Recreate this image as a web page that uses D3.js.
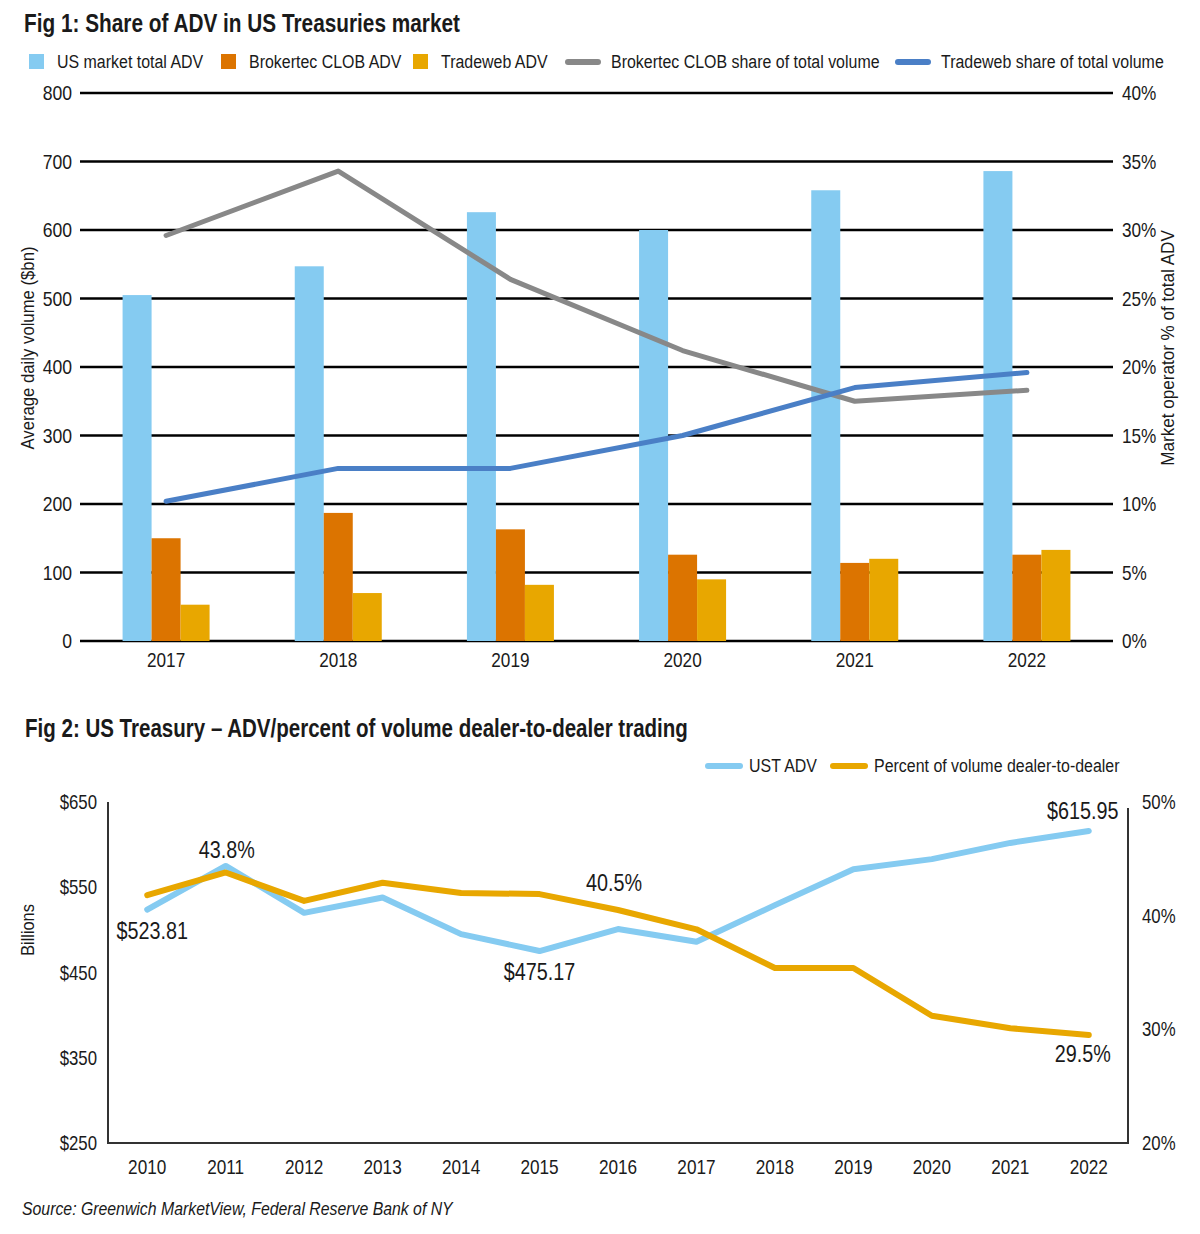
<!DOCTYPE html>
<html>
<head>
<meta charset="utf-8">
<script src="https://cdn.jsdelivr.net/npm/d3@7"></script>
<style>
  body { margin: 0; background: #fff; }
  svg text { font-family: "Liberation Sans", Arial, sans-serif; fill: #1a1a1a; }
  .title { font-weight: bold; font-size: 26px; }
</style>
</head>
<body>
<svg id="chart" width="1200" height="1234"></svg>
<script>
// ---- Fig 1 data ----
var years1 = ["2017", "2018", "2019", "2020", "2021", "2022"];
var totalAdv = [505, 547, 626, 600, 658, 686];
var brokertecAdv = [150, 187, 163, 126, 114, 126];
var tradewebAdv = [53, 70, 82, 90, 120, 133];
var brokertecShare = [29.6, 34.3, 26.4, 21.2, 17.5, 18.3];
var tradewebShare = [10.2, 12.6, 12.6, 15.0, 18.5, 19.6];
var leftTicks1 = [0, 100, 200, 300, 400, 500, 600, 700, 800];
var rightTicks1 = [0, 5, 10, 15, 20, 25, 30, 35, 40];

// ---- Fig 2 data ----
var years2 = ["2010", "2011", "2012", "2013", "2014", "2015", "2016", "2017", "2018", "2019", "2020", "2021", "2022"];
var ustAdv = [523.81, 575, 520, 538, 495, 475.17, 501, 486, 529, 571, 583, 602, 615.95];
var dealerPct = [41.8, 43.8, 41.3, 42.9, 42.0, 41.9, 40.5, 38.8, 35.4, 35.4, 31.2, 30.1, 29.5];
var leftTicks2 = [250, 350, 450, 550, 650];
var rightTicks2 = [20, 30, 40, 50];

var svg = d3.select("#chart");

var colBlue = "#85CBF1",
    colOrange = "#DC7400",
    colYellow = "#E8A700",
    colGrey = "#888888",
    colLineBlue = "#4A7FC6";

// squeeze text horizontally (condensed look of the original face)
function squeeze(sel, f) {
    sel.each(function () {
        var t = d3.select(this);
        var tr = t.attr("transform");
        if (tr) {
            t.attr("transform", tr + " scale(" + f + ",1)");
        } else {
            var x = +t.attr("x") || 0, y = +t.attr("y") || 0;
            t.attr("x", 0).attr("y", 0)
                .attr("transform", "translate(" + x + "," + y + ") scale(" + f + ",1)");
        }
    });
    return sel;
}

// ================= FIG 1 =================
squeeze(svg.append("text").attr("class", "title").attr("x", 24).attr("y", 32)
    .text("Fig 1: Share of ADV in US Treasuries market"), 0.8);

// legend
var leg1 = [
    {type: "rect", color: colBlue, x: 29, label: "US market total ADV"},
    {type: "rect", color: colOrange, x: 221, label: "Brokertec CLOB ADV"},
    {type: "rect", color: colYellow, x: 413, label: "Tradeweb ADV"},
    {type: "line", color: colGrey, x: 566, label: "Brokertec CLOB share of total volume"},
    {type: "line", color: colLineBlue, x: 896, label: "Tradeweb share of total volume"}
];
leg1.forEach(function (d) {
    if (d.type === "rect") {
        svg.append("rect").attr("x", d.x).attr("y", 54).attr("width", 15).attr("height", 15).attr("fill", d.color);
        squeeze(svg.append("text").attr("x", d.x + 28).attr("y", 68).style("font-size", "19px").text(d.label), 0.84);
    } else {
        svg.append("line").attr("x1", d.x + 2).attr("x2", d.x + 32).attr("y1", 62).attr("y2", 62)
            .attr("stroke", d.color).attr("stroke-width", 6).attr("stroke-linecap", "round");
        squeeze(svg.append("text").attr("x", d.x + 45).attr("y", 68).style("font-size", "19px").text(d.label), 0.84);
    }
});

var x1 = d3.scaleBand().domain(years1).range([80, 1113]).padding(0);
var y1L = d3.scaleLinear().domain([0, 800]).range([641, 93]);
var y1R = d3.scaleLinear().domain([0, 40]).range([641, 93]);
var barW = 29;

// gridlines
svg.append("g").selectAll("line").data(leftTicks1).join("line")
    .attr("x1", 80).attr("x2", 1113)
    .attr("y1", d => y1L(d)).attr("y2", d => y1L(d))
    .attr("stroke", "#000").attr("stroke-width", 2.5);

squeeze(svg.append("g").selectAll("text").data(leftTicks1).join("text")
    .attr("x", 72).attr("y", d => y1L(d) + 7).attr("text-anchor", "end")
    .style("font-size", "20px").text(d => d), 0.88);

squeeze(svg.append("g").selectAll("text").data(rightTicks1).join("text")
    .attr("x", 1122).attr("y", d => y1R(d) + 7).attr("text-anchor", "start")
    .style("font-size", "20px").text(d => d + "%"), 0.86);

squeeze(svg.append("text").attr("transform", "translate(34,348) rotate(-90)").attr("text-anchor", "middle")
    .style("font-size", "19px").text("Average daily volume ($bn)"), 0.88);
squeeze(svg.append("text").attr("transform", "translate(1174,348) rotate(-90)").attr("text-anchor", "middle")
    .style("font-size", "19px").text("Market operator % of total ADV"), 0.9);

// bars
var barSeries = [
    {vals: totalAdv, color: colBlue},
    {vals: brokertecAdv, color: colOrange},
    {vals: tradewebAdv, color: colYellow}
];
barSeries.forEach(function (s, k) {
    svg.append("g").selectAll("rect").data(years1).join("rect")
        .attr("x", (d, i) => x1(d) + x1.bandwidth() / 2 - 1.5 * barW + k * barW)
        .attr("y", (d, i) => y1L(s.vals[i]))
        .attr("width", barW)
        .attr("height", (d, i) => y1L(0) - y1L(s.vals[i]))
        .attr("fill", s.color);
});

// x labels
squeeze(svg.append("g").selectAll("text").data(years1).join("text")
    .attr("x", d => x1(d) + x1.bandwidth() / 2).attr("y", 667).attr("text-anchor", "middle")
    .style("font-size", "20px").text(d => d), 0.86);

// share lines
var line1 = d3.line().x((d, i) => x1(years1[i]) + x1.bandwidth() / 2).y(d => y1R(d));
svg.append("path").attr("d", line1(brokertecShare)).attr("fill", "none")
    .attr("stroke", colGrey).attr("stroke-width", 5).attr("stroke-linecap", "round").attr("stroke-linejoin", "round");
svg.append("path").attr("d", line1(tradewebShare)).attr("fill", "none")
    .attr("stroke", colLineBlue).attr("stroke-width", 5).attr("stroke-linecap", "round").attr("stroke-linejoin", "round");

// ================= FIG 2 =================
squeeze(svg.append("text").attr("class", "title").attr("x", 25).attr("y", 737)
    .text("Fig 2: US Treasury \u2013 ADV/percent of volume dealer-to-dealer trading"), 0.79);

// legend
var leg2 = [
    {color: colBlue, x: 706, label: "UST ADV"},
    {color: colYellow, x: 831, label: "Percent of volume dealer-to-dealer"}
];
leg2.forEach(function (d) {
    svg.append("line").attr("x1", d.x + 2).attr("x2", d.x + 34).attr("y1", 766).attr("y2", 766)
        .attr("stroke", d.color).attr("stroke-width", 6).attr("stroke-linecap", "round");
    squeeze(svg.append("text").attr("x", d.x + 43).attr("y", 772).style("font-size", "19px").text(d.label), 0.84);
});

var x2 = d3.scaleBand().domain(years2).range([108, 1128]).padding(0);
var y2L = d3.scaleLinear().domain([250, 650]).range([1143, 802]);
var y2R = d3.scaleLinear().domain([20, 50]).range([1143, 802]);

// axes frame
svg.append("line").attr("x1", 108).attr("x2", 108).attr("y1", 802).attr("y2", 1144)
    .attr("stroke", "#333").attr("stroke-width", 2);
svg.append("line").attr("x1", 1128).attr("x2", 1128).attr("y1", 808).attr("y2", 1144)
    .attr("stroke", "#333").attr("stroke-width", 2);
svg.append("line").attr("x1", 107).attr("x2", 1129).attr("y1", 1143).attr("y2", 1143)
    .attr("stroke", "#333").attr("stroke-width", 2);

squeeze(svg.append("g").selectAll("text").data(leftTicks2).join("text")
    .attr("x", 97).attr("y", d => y2L(d) + 7).attr("text-anchor", "end")
    .style("font-size", "20px").text(d => "$" + d), 0.84);
squeeze(svg.append("g").selectAll("text").data(rightTicks2).join("text")
    .attr("x", 1142).attr("y", d => y2R(d) + 7).attr("text-anchor", "start")
    .style("font-size", "20px").text(d => d + "%"), 0.84);
squeeze(svg.append("g").selectAll("text").data(years2).join("text")
    .attr("x", d => x2(d) + x2.bandwidth() / 2).attr("y", 1174).attr("text-anchor", "middle")
    .style("font-size", "20px").text(d => d), 0.86);

squeeze(svg.append("text").attr("transform", "translate(34,930) rotate(-90)").attr("text-anchor", "middle")
    .style("font-size", "19px").text("Billions"), 0.86);

var lineL = d3.line().x((d, i) => x2(years2[i]) + x2.bandwidth() / 2).y(d => y2L(d));
var lineR = d3.line().x((d, i) => x2(years2[i]) + x2.bandwidth() / 2).y(d => y2R(d));
svg.append("path").attr("d", lineL(ustAdv)).attr("fill", "none")
    .attr("stroke", colBlue).attr("stroke-width", 6).attr("stroke-linecap", "round").attr("stroke-linejoin", "round");
svg.append("path").attr("d", lineR(dealerPct)).attr("fill", "none")
    .attr("stroke", colYellow).attr("stroke-width", 6).attr("stroke-linecap", "round").attr("stroke-linejoin", "round");

// annotations
var cx = function (yr) { return x2(yr) + x2.bandwidth() / 2; };
var notes = [
    {x: cx("2010") + 5, y: y2L(523.81) + 29, t: "$523.81"},
    {x: cx("2011") + 1, y: y2R(43.8) - 14, t: "43.8%"},
    {x: cx("2015") + 0, y: y2L(475.17) + 29, t: "$475.17"},
    {x: cx("2016") - 4, y: y2R(40.5) - 19, t: "40.5%"},
    {x: cx("2022") - 6, y: y2L(615.95) - 12, t: "$615.95"},
    {x: cx("2022") - 6, y: y2R(29.5) + 27, t: "29.5%"}
];
squeeze(svg.append("g").selectAll("text").data(notes).join("text")
    .attr("x", d => d.x).attr("y", d => d.y).attr("text-anchor", "middle")
    .style("font-size", "23px").text(d => d.t), 0.86);

squeeze(svg.append("text").attr("x", 22).attr("y", 1215).style("font-size", "18px").style("font-style", "italic")
    .text("Source: Greenwich MarketView, Federal Reserve Bank of NY"), 0.88);
</script>
</body>
</html>
